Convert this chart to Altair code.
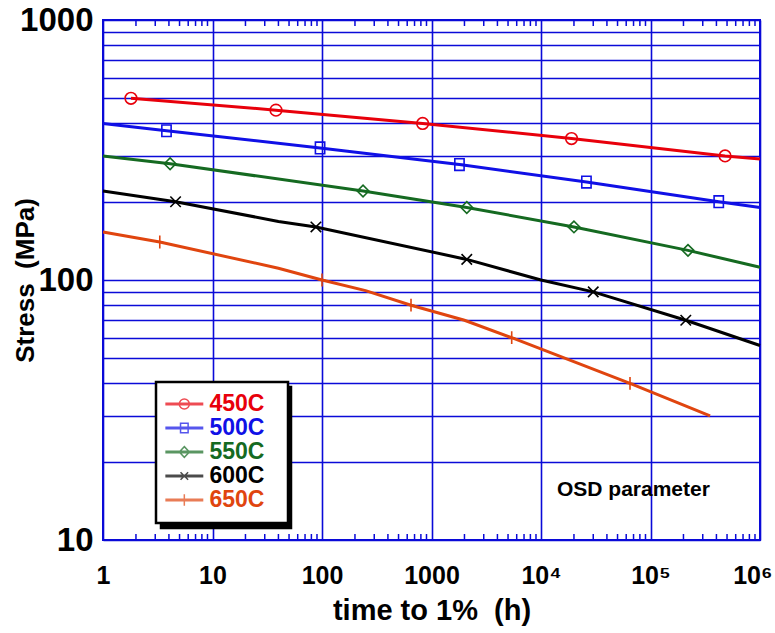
import json
import altair as alt
import pandas as pd

# ---------------- data ----------------
series_names = ["450C", "500C", "550C", "600C", "650C"]
series_colors = ["#e8000b", "#1010e6", "#156a21", "#000000", "#e0450f"]

# line vertices: time to 1% (h) and stress (MPa)
t450 = [1.8, 38, 830, 19000, 480000, 1000000]
s450 = [500, 450, 400, 350, 300, 292]
t500 = [1, 3.8, 96, 1800, 26000, 420000, 1000000]
s500 = [400, 375, 322, 278, 238, 200, 190]
t550 = [1, 4.1, 237, 2100, 20000, 220000, 1000000]
s550 = [300, 280, 220, 190, 160, 130, 112]
t600 = [1, 4.6, 40, 88, 2100, 10000, 30000, 210000, 1000000]
s600 = [220, 200, 168, 160, 120, 100, 90, 70, 56]
t650 = [1, 3.3, 40, 100, 250, 650, 2000, 5400, 65000, 350000]
s650 = [153, 140, 111, 100, 91, 80, 70, 60, 40, 30]

# marker positions
mt450 = [1.8, 38, 830, 19000, 480000]
ms450 = [500, 450, 400, 350, 300]
mt500 = [3.8, 96, 1800, 26000, 420000]
ms500 = [375, 322, 278, 238, 200]
mt550 = [4.1, 237, 2100, 20000, 220000]
ms550 = [280, 220, 190, 160, 130]
mt600 = [4.6, 88, 2100, 30000, 210000]
ms600 = [200, 160, 120, 90, 70]
mt650 = [3.3, 100, 650, 5400, 65000]
ms650 = [140, 100, 80, 60, 40]

x_decades = [1, 10, 100, 1000, 10000, 100000, 1000000]
x_tick_labels = ["1", "10", "100", "1000", "10\u2074", "10\u2075", "10\u2076"]
x_minor = [m * d for d in x_decades[:-1] for m in range(2, 10)]
y_grid = [m * d for d in [10, 100] for m in range(1, 10)] + [1000]
y_tick_labels = [10, 100, 1000]
y_edges = [10, 1000]

note_t = [14000]
note_s = [15.6]
note_text = ["OSD parameter"]

# ---------------- tables ----------------
line_rows, mark_rows = [], []
for name, ts, ss, mts, mss in [
    ("450C", t450, s450, mt450, ms450),
    ("500C", t500, s500, mt500, ms500),
    ("550C", t550, s550, mt550, ms550),
    ("600C", t600, s600, mt600, ms600),
    ("650C", t650, s650, mt650, ms650),
]:
    line_rows += [{"t": t, "s": s, "series": name} for t, s in zip(ts, ss)]
    mark_rows += [{"t": t, "s": s, "series": name} for t, s in zip(mts, mss)]
lines_df = pd.DataFrame(line_rows)
marks_df = pd.DataFrame(mark_rows)
note_df = pd.DataFrame({"t": note_t, "s": note_s, "text": note_text})
minor_df = pd.DataFrame([{"t": t, "s": e} for t in x_minor for e in y_edges])

# ---------------- styling ----------------
BLUE = "#0a0ad8"
FONT = "Liberation Sans"
NB = "\u00a0"
ZW = "\u200b"

plot_shapes = [
    "circle",
    "M-0.8,-1H0.8V1H-0.8ZM-0.8,0H0.8",
    "diamond",
    "M-0.9,-0.9L0.9,0.9M-0.9,0.9L0.9,-0.9",
    "M0,-1.1V1.1M-0.6,0H0.6",
]
LINE = "M-2,-0.1H4M-2,0.1H4"
legend_shapes = [
    LINE + "M1.8,0A0.8,0.8 0 1,1 0.2,0A0.8,0.8 0 1,1 1.8,0Z",
    LINE + "M0.4,-0.75H1.6V0.75H0.4Z",
    LINE + "M1,-0.85L1.8,0L1,0.85L0.2,0Z",
    LINE + "M0.4,-0.6L1.6,0.6M0.4,0.6L1.6,-0.6",
    LINE + "M1,-0.9V0.9",
]

x_scale = alt.Scale(type="log", domain=[1, 1000000], nice=False)
y_scale = alt.Scale(type="log", domain=[10, 1000], nice=False)

x_label_expr = json.dumps(x_tick_labels, ensure_ascii=False) + "[round(log(datum.value)/LN10)]"
y_label_expr = "indexof(" + json.dumps(y_tick_labels) + ", datum.value) >= 0 ? format(datum.value, 'd') : ''"

x_axis = alt.Axis(
    values=x_decades, labelExpr=x_label_expr, grid=True, gridColor=BLUE, gridWidth=1.6,
    ticks=False, domain=False, labelFont=FONT, labelFontWeight="bold", labelFontSize=25,
    labelColor="black", labelBaseline="alphabetic", labelPadding=43, labelFlush=False,
    labelOverlap=False,
    labelAlign={"condition": {"test": "datum.value >= 1000000", "value": "right"}, "value": "center"},
    labelOffset={"condition": {"test": "datum.value >= 1000000", "value": 12}, "value": 0},
    title="time to 1%" + NB + NB + "(h)", titleFont=FONT, titleFontWeight="bold",
    titleFontSize=29, titleColor="black", titleBaseline="alphabetic", titleY=79,
)
y_axis = alt.Axis(
    values=y_grid, labelExpr=y_label_expr, grid=True, gridColor=BLUE, gridWidth=1.6,
    ticks=False, domain=False, labelFont=FONT, labelFontWeight="bold", labelFontSize=33,
    labelColor="black", labelPadding=10, labelFlush=False, labelOverlap=False,
    title="Stress" + NB + NB + "(MPa)", titleFont=FONT, titleFontWeight="bold", titleFontSize=26,
    titleColor="black", titleX=-78, titleBaseline="middle",
)

color_by_label = " : ".join(
    f"datum.value == '{n}' ? '{c}'" for n, c in zip(series_names, series_colors)
) + " : 'black'"

X = alt.X("t:Q", scale=x_scale, axis=x_axis)
Y = alt.Y("s:Q", scale=y_scale, axis=y_axis)

minor_ticks = alt.Chart(minor_df).mark_tick(
    orient="vertical", size=12, thickness=1.5, color=BLUE, clip=True, opacity=1
).encode(x=X, y=Y)

lines = alt.Chart(lines_df).mark_line(strokeWidth=3).encode(
    x=X, y=Y,
    color=alt.Color("series:N", scale=alt.Scale(domain=series_names, range=series_colors), legend=None),
    detail="series:N",
)

markers = alt.Chart(marks_df).mark_point(filled=False, size=135, strokeWidth=1.6, opacity=1).encode(
    x=X, y=Y,
    color=alt.Color("series:N", scale=alt.Scale(domain=series_names, range=series_colors), legend=None),
    shape=alt.Shape("series:N", scale=alt.Scale(domain=series_names, range=plot_shapes), legend=None),
)

legend_common = dict(
    orient="none", title=None, symbolSize=160, symbolStrokeWidth=1.5, labelFont=FONT,
    labelFontWeight="bold", labelFontSize=23, rowPadding=0, padding=10.5, cornerRadius=0,
)
main_opts = dict(legendX=53, legendY=362, fillColor="white", strokeColor="black",
                 labelColor=alt.ExprRef(color_by_label), labelOffset=20,
                 labelExpr="datum.label + '" + NB + NB + ZW + "'", zindex=1, **legend_common)
shadow_opts = dict(legendX=58, legendY=367, fillColor="black", strokeColor="black",
                   labelColor="black", labelOffset=86, labelExpr="''", symbolOpacity=0,
                   zindex=0, **legend_common)

shadow_legend = alt.Chart(marks_df).transform_filter("false").mark_point(filled=False).encode(
    x=X, y=Y,
    color=alt.Color("series:N", scale=alt.Scale(domain=series_names, range=["black"] * 5),
                    legend=alt.Legend(**shadow_opts)),
    shape=alt.Shape("series:N", scale=alt.Scale(domain=series_names, range=legend_shapes),
                    legend=alt.Legend(**shadow_opts)),
)

main_legend = alt.Chart(marks_df).transform_filter("false").mark_point(filled=False).encode(
    x=X, y=Y,
    color=alt.Color("series:N", scale=alt.Scale(domain=series_names, range=series_colors),
                    legend=alt.Legend(**main_opts)),
    shape=alt.Shape("series:N", scale=alt.Scale(domain=series_names, range=legend_shapes),
                    legend=alt.Legend(**main_opts)),
)

note = alt.Chart(note_df).mark_text(
    align="left", baseline="middle", font=FONT, fontWeight="bold", fontSize=21, color="black"
).encode(x=X, y=Y, text="text:N")

chart = (
    alt.layer(minor_ticks, lines, markers, note, shadow_legend, main_legend)
    .resolve_scale(color="independent", shape="independent")
    .properties(
        width=657, height=520,
        autosize=alt.AutoSizeParams(type="none"),
        padding={"left": 103, "top": 20, "right": 15, "bottom": 93},
        background="white",
    )
    .configure_view(stroke=BLUE, strokeWidth=2)
    .configure_legend(strokeWidth=2.5)
)

chart.save("out.html", embed_options={"renderer": "svg", "actions": False})
